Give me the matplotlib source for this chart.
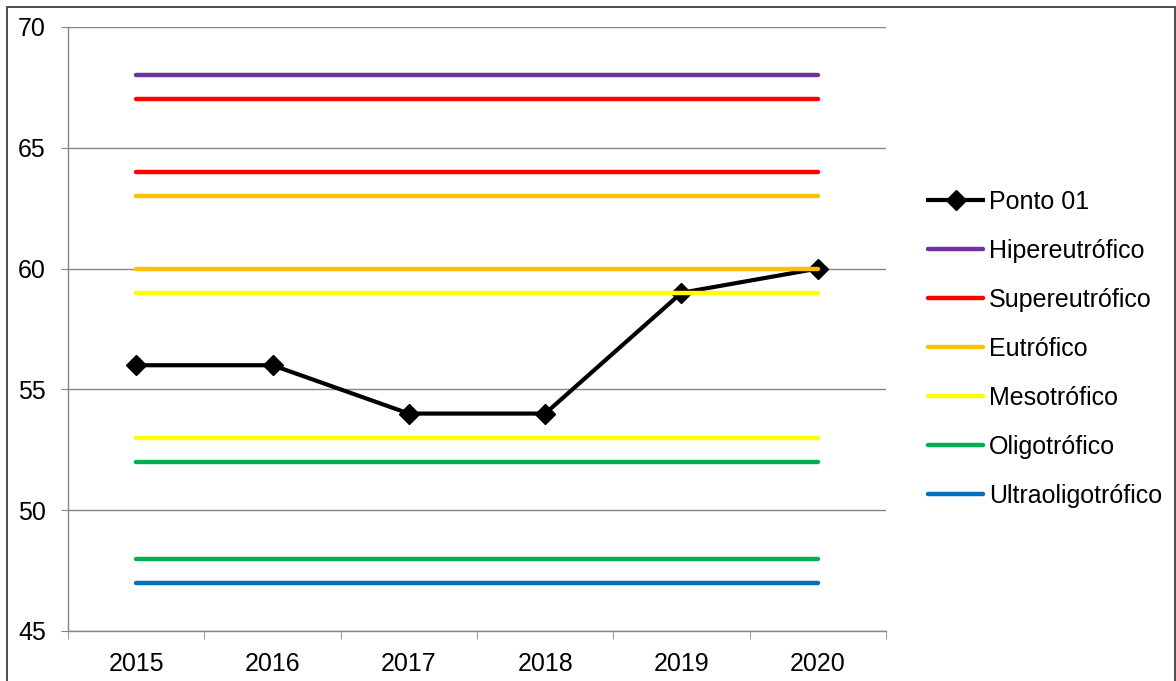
import matplotlib.pyplot as plt
from matplotlib.patches import Rectangle

years = ["2015", "2016", "2017", "2018", "2019", "2020"]
ponto_01 = [56, 56, 54, 54, 59, 60]

class_names = ["Hipereutrófico", "Supereutrófico", "Eutrófico",
               "Mesotrófico", "Oligotrófico", "Ultraoligotrófico"]
class_limits = [[68], [67, 64], [63, 60], [59, 53], [52, 48], [47]]
class_colors = ["#7030A0", "#FF0000", "#FFC000", "#FFFF00", "#00B050", "#0070C0"]

plt.rcParams["font.family"] = ["Liberation Sans", "DejaVu Sans"]
FS = 18
GRAY = "#868686"

fig = plt.figure(figsize=(11.76, 6.81), dpi=100)
ax = fig.add_axes([68 / 1176, 50 / 681, 818 / 1176, 604 / 681])

x = list(range(len(years)))

# Ponto 01 first (Excel series order -> drawn underneath)
ax.plot(x, ponto_01, color="black", lw=3, marker="D", markersize=10.5,
        label="Ponto 01", zorder=3, solid_joinstyle="miter")

for name, limits, color in zip(class_names, class_limits, class_colors):
    for i, val in enumerate(limits):
        ax.plot(x, [val] * len(x), color=color, lw=3.2, solid_capstyle="round",
                label=name if i == 0 else None, zorder=4)

ax.set_xlim(-0.5, len(years) - 0.5)
ax.set_ylim(45, 70)
ax.set_yticks(range(45, 71, 5))
ax.set_xticks(x)
ax.set_xticklabels(years)
ax.set_xticks([i - 0.5 for i in range(len(years) + 1)], minor=True)

ax.grid(axis="y", color=GRAY, lw=1, zorder=0)
ax.set_axisbelow(True)
for side in ("top", "right"):
    ax.spines[side].set_visible(False)
for side in ("left", "bottom"):
    ax.spines[side].set_color(GRAY)
    ax.spines[side].set_linewidth(1)

ax.tick_params(axis="x", which="major", length=0, pad=15, labelsize=FS)
ax.tick_params(axis="x", which="minor", length=6, color=GRAY, direction="out")
ax.tick_params(axis="y", length=5, color=GRAY, pad=11, labelsize=FS)

handles, labels = ax.get_legend_handles_labels()
fig.legend(handles, labels, loc="upper left", bbox_to_anchor=(918 / 1176, 1 - 180 / 681),
           frameon=False, fontsize=FS, handlelength=2.2, handletextpad=0.25,
           labelspacing=1.0, borderaxespad=0)

fig.patches.append(Rectangle((7 / 1176, -0.02), 1168 / 1176, 1.02 - 7 / 681,
                             transform=fig.transFigure, fill=False,
                             edgecolor="#404040", lw=1.3))

fig.savefig("out.png", dpi=100)
